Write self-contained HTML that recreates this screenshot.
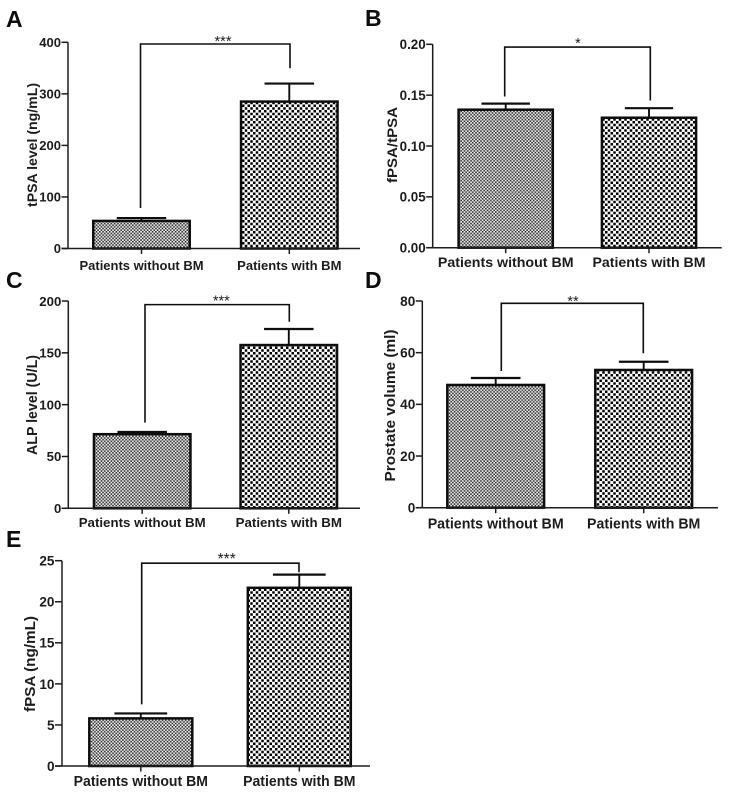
<!DOCTYPE html>
<html lang="en">
<head>
<meta charset="utf-8">
<title>Five bar charts comparing patients with and without BM</title>
<style>
html,body{margin:0;padding:0;background:#fff;}
body{width:744px;height:809px;overflow:hidden;}
svg{display:block;}
text{font-family:"Liberation Sans",Arial,sans-serif;fill:#1c1c1c;}
.letter{font-size:23px;font-weight:bold;fill:#111;}
</style>
</head>
<body>
<svg id="figure" xmlns="http://www.w3.org/2000/svg" width="744" height="809" viewBox="0 0 744 809">
  <defs>
    <filter id="soft" x="0" y="0" width="100%" height="100%"><feGaussianBlur stdDeviation="0.25"/></filter>
    <pattern id="fine-check" patternUnits="userSpaceOnUse" width="3.3" height="3.3">
      <rect width="3.3" height="3.3" fill="#f4f4f4"/>
      <rect width="1.6" height="1.6" fill="#2a2a2a"/>
      <rect x="1.65" y="1.65" width="1.6" height="1.6" fill="#2a2a2a"/>
    </pattern>
    <pattern id="coarse-check" patternUnits="userSpaceOnUse" width="5.5" height="5.5">
      <rect width="5.5" height="5.5" fill="#fff"/>
      <rect width="2.5" height="2.5" fill="#000"/>
      <rect x="2.75" y="2.75" width="2.5" height="2.5" fill="#000"/>
    </pattern>
  </defs>
  <g id="root" filter="url(#soft)">
    <text class="letter" x="6" y="27">A</text>
    <text class="letter" x="365" y="26">B</text>
    <text class="letter" x="6" y="288">C</text>
    <text class="letter" x="365" y="288">D</text>
    <text class="letter" x="6" y="547">E</text>
  </g>
</svg>
<script>
const categories = ['Patients without BM', 'Patients with BM'];

const tpsaMeans = [53.5, 285];
const tpsaErrorTops = [59, 320];
const tpsaTicks = [0, 100, 200, 300, 400];
const tpsaTickLabels = ['0', '100', '200', '300', '400'];
const tpsaBracket = [396.7, 78.5, 349.6];

const ratioMeans = [0.1357, 0.1278];
const ratioErrorTops = [0.1417, 0.1372];
const ratioTicks = [0, 0.05, 0.10, 0.15, 0.20];
const ratioTickLabels = ['0.00', '0.05', '0.10', '0.15', '0.20'];
const ratioBracket = [0.1973, 0.1487, 0.1448];

const alpMeans = [71.5, 157.5];
const alpErrorTops = [73.6, 173];
const alpTicks = [0, 50, 100, 150, 200];
const alpTickLabels = ['0', '50', '100', '150', '200'];
const alpBracket = [196.5, 82.6, 180];

const volumeMeans = [47.5, 53.3];
const volumeErrorTops = [50.2, 56.5];
const volumeTicks = [0, 20, 40, 60, 80];
const volumeTickLabels = ['0', '20', '40', '60', '80'];
const volumeBracket = [79.1, 52.9, 59.8];

const fpsaMeans = [5.8, 21.7];
const fpsaErrorTops = [6.4, 23.3];
const fpsaTicks = [0, 5, 10, 15, 20, 25];
const fpsaTickLabels = ['0', '5', '10', '15', '20', '25'];
const fpsaBracket = [24.7, 7.5, 23.6];

const panels = [
  {key:'a', title:'tPSA level (ng/mL)', stars:'***', means:tpsaMeans, tops:tpsaErrorTops, ticks:tpsaTicks, labels:tpsaTickLabels, bracket:tpsaBracket,
   max:400, left:68, right:360, top:42.3, base:248.5, c0:141.5, step:147.8, bw:99, dx:[-1,0.7],
   tick:6.5, fs:13, xfs:13, lw:[124,104.3], lb:270, tx:32, tfs:14, tlen:124, tcy:145, sx:223, sy:46, sfs:14.5},
  {key:'b', title:'fPSA/tPSA', stars:'*', means:ratioMeans, tops:ratioErrorTops, ticks:ratioTicks, labels:ratioTickLabels, bracket:ratioBracket,
   max:0.2, left:432.7, right:721.7, top:44.3, base:247.7, c0:505.7, step:143.3, bw:96.7, dx:[-1,1.3],
   tick:6.5, fs:13.4, xfs:14, lw:[135.7,113], lb:267, tx:392, tfs:14, tlen:76, tcy:145, sx:578, sy:48, sfs:14.5},
  {key:'c', title:'ALP level (U/L)', stars:'***', means:alpMeans, tops:alpErrorTops, ticks:alpTicks, labels:alpTickLabels, bracket:alpBracket,
   max:200, left:68.3, right:360, top:301, base:508.3, c0:142.2, step:146.6, bw:99, dx:[2.8,0.5],
   tick:6.5, fs:13.2, xfs:13.3, lw:[127,106.3], lb:527, tx:32, tfs:14.5, tlen:100, tcy:405, sx:221.3, sy:305.5, sfs:14.5},
  {key:'d', title:'Prostate volume (ml)', stars:'**', means:volumeMeans, tops:volumeErrorTops, ticks:volumeTicks, labels:volumeTickLabels, bracket:volumeBracket,
   max:80, left:422.3, right:718, top:301, base:507.7, c0:495.7, step:148, bw:99.3, dx:[5.6,-0.4],
   tick:6.5, fs:13.6, xfs:14.3, lw:[136,113.3], lb:528.5, tx:390, tfs:14.5, tlen:152, tcy:405.5, sx:573, sy:306, sfs:14.5},
  {key:'e', title:'fPSA (ng/mL)', stars:'***', means:fpsaMeans, tops:fpsaErrorTops, ticks:fpsaTicks, labels:fpsaTickLabels, bracket:fpsaBracket,
   max:25, left:62, right:370, top:560.7, base:766, c0:140.8, step:158.5, bw:105.5, dx:[0.9,-0.3],
   tick:7, fs:13.6, xfs:14.3, lw:[134.3,112.3], lb:786, tx:30, tfs:14.5, tlen:96, tcy:664, sx:226.7, sy:564, sfs:15.5}
];

const NS = 'http://www.w3.org/2000/svg';
const root = document.getElementById('root');

function make(parent, tag, attrs, content) {
  const node = document.createElementNS(NS, tag);
  for (const k in attrs) node.setAttribute(k, attrs[k]);
  if (content !== undefined) node.textContent = content;
  parent.appendChild(node);
  return node;
}

panels.forEach(function (p) {
  const yScale = function (v) { return p.base - (v / p.max) * (p.base - p.top); };
  const xScale = function (i) { return p.c0 + i * p.step; };
  const ink = '#1e1e1e';

  const g = make(root, 'g', {});
  
  

  p.means.forEach(function (value, i) {
    const x = xScale(i);
    const errorStem = make(g, 'line', {x1:x, x2:x, y1:yScale(value), y2:yScale(p.tops[i]), stroke:'#111', 'stroke-width':1.9});
    
    
    const errorCap = make(g, 'line', {x1:x - p.bw / 4, x2:x + p.bw / 4, y1:yScale(p.tops[i]), y2:yScale(p.tops[i]), stroke:'#111', 'stroke-width':2.2});
    
    
    const bar = make(g, 'rect', {x:x - p.bw / 2 + 1.25, y:yScale(value), width:p.bw - 2.5, height:p.base - yScale(value),
      fill:i === 0 ? 'url(#fine-check)' : 'url(#coarse-check)', stroke:'#0c0c0c', 'stroke-width':2.5});
    
    
  });

  const yAxis = make(g, 'line', {x1:p.left, x2:p.left, y1:p.top, y2:p.base, stroke:ink, 'stroke-width':1.5});
  
  
  const xAxis = make(g, 'line', {x1:p.left - p.tick, x2:p.right, y1:p.base, y2:p.base, stroke:ink, 'stroke-width':1.5});
  
  

  p.ticks.forEach(function (t, i) {
    const y = yScale(t);
    const tickMark = make(g, 'line', {x1:p.left - p.tick, x2:p.left, y1:y, y2:y, stroke:ink, 'stroke-width':1.5});
    
    
    const tickLabel = make(g, 'text', {x:p.left - p.tick - 0.5, y:y + p.fs * 0.36, 'text-anchor':'end', 'font-size':p.fs, 'font-weight':'bold'}, p.labels[i]);
    
    
  });

  categories.forEach(function (name, i) {
    const x = xScale(i);
    const tickMark = make(g, 'line', {x1:x, x2:x, y1:p.base, y2:p.base + 5.5, stroke:ink, 'stroke-width':1.5});
    
    
    const catLabel = make(g, 'text', {x:x, y:p.lb, 'text-anchor':'middle', 'font-size':p.xfs, 'font-weight':'bold',
      textLength:p.lw[i], lengthAdjust:'spacingAndGlyphs'}, name);
    
    
  });

  const yTitle = make(g, 'text', {transform:'translate(' + (p.tx + p.tfs * 0.36) + ' ' + p.tcy + ') rotate(-90)', 'text-anchor':'middle',
    'font-size':p.tfs, 'font-weight':'bold', textLength:p.tlen, lengthAdjust:'spacingAndGlyphs'}, p.title);
  
  

  const bx0 = xScale(0) + p.dx[0];
  const bx1 = xScale(1) + p.dx[1];
  const bracketPath = 'M' + bx0 + ' ' + yScale(p.bracket[1]) + 'V' + yScale(p.bracket[0]) + 'H' + bx1 + 'V' + yScale(p.bracket[2]);
  const bracket = make(g, 'path', {d:bracketPath, fill:'none', stroke:'#111', 'stroke-width':1.6});
  
  

  const stars = make(g, 'text', {x:p.sx, y:p.sy, 'text-anchor':'middle', 'font-size':p.sfs}, p.stars);
  
  
});
</script>
</body>
</html>
